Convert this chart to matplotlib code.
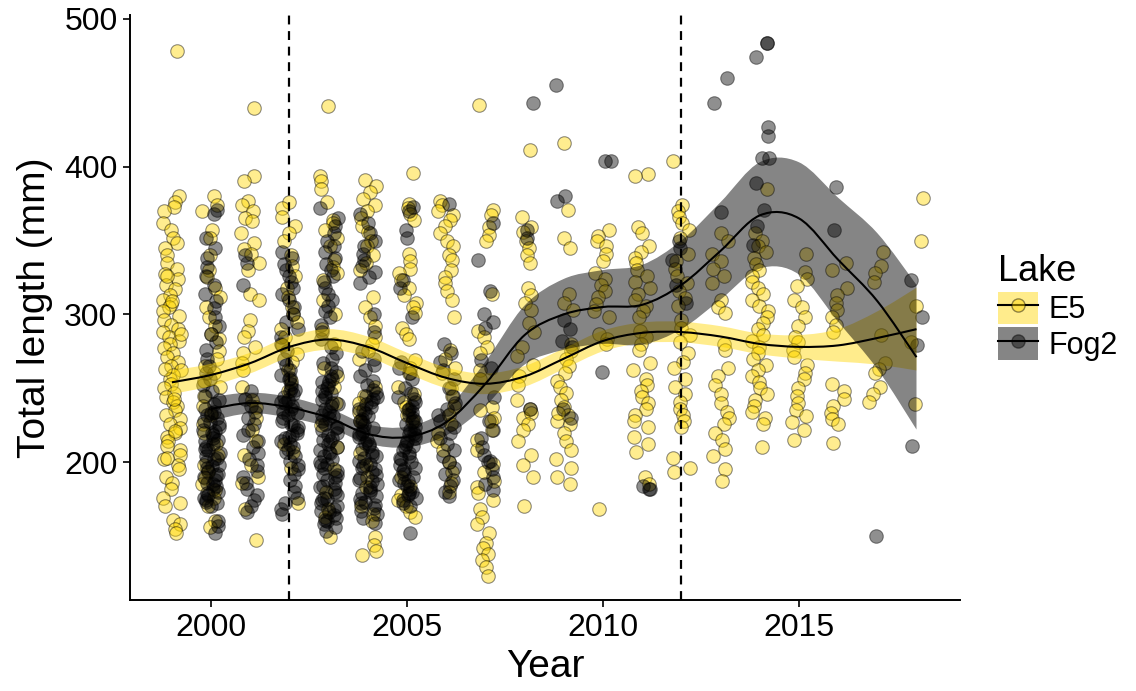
import numpy as np
import matplotlib
matplotlib.use("Agg")
import matplotlib.pyplot as plt
from matplotlib.path import Path
from matplotlib.patches import PathPatch, Patch
from matplotlib.lines import Line2D
from matplotlib.legend_handler import HandlerTuple

plt.rcParams['font.family'] = ['Liberation Sans', 'DejaVu Sans']

# ---------------- data: E5 (total length, mm) per year ----------------
e5_1999 = [478, 380, 376, 373, 370, 362, 357, 352, 348, 345, 340, 335, 331, 327, 324, 320, 317, 313, 310, 307,
           305, 302, 299, 296, 293, 290, 288, 285, 282, 280, 277, 274, 271, 268, 265, 262, 259, 256, 253, 250,
           247, 244, 241, 238, 235, 232, 229, 226, 223, 220, 217, 214, 211, 208, 205, 202, 198, 195, 190, 186,
           182, 176, 172, 170, 161, 158, 155, 152, 263, 287, 309, 326, 243, 221, 203]
e5_2000 = [380, 374, 370, 357, 352, 340, 330, 325, 318, 312, 305, 298, 292, 287, 283, 275, 270, 265, 260, 255,
           251, 245, 238, 232, 226, 220, 212, 205, 198, 193, 189, 185, 181, 176, 170, 160, 156]
e5_2001 = [440, 394, 390, 377, 374, 370, 365, 363, 355, 348, 344, 341, 335, 330, 314, 310, 296, 289, 285, 278,
           274, 267, 262, 251, 242, 237, 230, 222, 214, 205, 198, 190, 186, 168, 147]
e5_2002 = [376, 372, 366, 360, 355, 350, 340, 333, 326, 318, 312, 305, 300, 295, 290, 285, 279, 273, 268, 262,
           255, 248, 212, 207, 196, 172]
e5_2003 = [441, 394, 390, 385, 376, 364, 362, 357, 352, 346, 337, 332, 328, 323, 310, 300, 290, 280, 264, 258,
           251, 240, 225, 210, 195, 180, 168, 163, 149]
e5_2004 = [391, 387, 383, 378, 374, 370, 365, 360, 356, 350, 346, 340, 335, 330, 312, 305, 298, 292, 285, 280,
           275, 270, 251, 245, 240, 234, 228, 206, 198, 190, 183, 170, 165, 160, 149, 144, 140, 137]
e5_2005 = [396, 375, 372, 368, 364, 341, 336, 331, 328, 323, 318, 313, 308, 305, 301, 291, 287, 283, 269, 264,
           260, 251, 246, 241, 237, 232, 228, 190, 184, 178, 174, 170, 166, 163]
e5_2006 = [377, 374, 370, 367, 364, 360, 355, 350, 346, 340, 337, 330, 325, 321, 316, 310, 298, 276, 270, 264,
           260, 250, 245, 238, 232, 226, 220, 214, 208, 200, 193, 186, 180]
e5_2007 = [442, 371, 367, 359, 354, 350, 314, 289, 285, 278, 274, 262, 256, 237, 230, 235, 228, 222, 215, 208,
           199, 193, 187, 183, 179, 174, 168, 163, 158, 152, 145, 142, 138, 134, 129, 123]
e5_2008 = [411, 366, 359, 356, 350, 345, 340, 335, 318, 313, 308, 303, 294, 288, 278, 272, 266, 258, 252, 242,
           236, 230, 233, 226, 222, 214, 205, 198, 190, 170]
e5_2009 = [416, 371, 352, 345, 314, 308, 303, 280, 275, 270, 265, 260, 255, 251, 247, 242, 237, 232, 228, 233,
           226, 220, 214, 208, 202, 196, 190, 185]
e5_2010 = [357, 353, 350, 346, 341, 336, 328, 324, 320, 316, 312, 307, 302, 298, 287, 283, 280, 168]
e5_2011 = [395, 394, 359, 355, 346, 342, 338, 335, 330, 326, 322, 318, 314, 310, 306, 302, 298, 289, 285, 280,
           276, 267, 262, 256, 252, 248, 244, 240, 236, 232, 228, 224, 217, 212, 207, 190, 185]
e5_2012 = [404, 374, 370, 366, 362, 357, 352, 341, 336, 331, 326, 321, 316, 311, 306, 296, 291, 286, 281, 274,
           268, 264, 256, 251, 246, 241, 236, 232, 228, 224, 203, 196, 193]
e5_2013 = [355, 350, 341, 336, 331, 326, 321, 310, 305, 301, 280, 276, 264, 258, 252, 246, 240, 234, 230, 226,
           220, 215, 209, 204, 195, 187]
e5_2014 = [385, 355, 350, 346, 342, 338, 334, 330, 326, 322, 318, 314, 310, 306, 302, 298, 294, 290, 286, 282,
           278, 274, 270, 266, 262, 258, 254, 250, 246, 242, 238, 234, 230, 226, 210]
e5_2015 = [341, 329, 324, 319, 310, 305, 298, 292, 285, 281, 276, 271, 266, 260, 256, 250, 245, 240, 235, 231,
           227, 222, 215]
e5_2016 = [335, 330, 318, 313, 308, 303, 298, 293, 288, 253, 248, 243, 238, 233, 229, 226, 213]
e5_2017 = [342, 333, 328, 322, 286, 267, 263, 260, 251, 246, 241]
e5_2018 = [379, 350, 306, 281, 239]

# ---------------- data: Fog2 (total length, mm) per year ----------------
fog_2000 = [371, 368, 352, 345, 338, 332, 326, 320, 314, 309, 304, 298, 292, 287, 281, 276, 270, 265, 260, 256,
            252, 248, 245, 242, 239, 236, 234, 232, 230, 228, 226, 224, 222, 220, 218, 216, 214, 212, 210, 208,
            206, 204, 202, 200, 198, 196, 194, 192, 190, 188, 186, 184, 182, 180, 178, 176, 174, 172, 170, 160,
            157, 152, 233, 227, 221, 215, 209, 203, 197, 191, 185, 179, 173]
fog_2001 = [340, 335, 320, 248, 243, 238, 234, 230, 226, 222, 218, 214, 210, 206, 202, 198, 194, 190, 186, 182,
            178, 174, 170, 166]
fog_2002 = [342, 338, 334, 330, 326, 322, 318, 314, 310, 305, 300, 295, 290, 285, 280, 275, 270, 266, 262, 259,
            256, 253, 250, 248, 246, 244, 242, 240, 238, 236, 234, 232, 230, 228, 226, 224, 222, 220, 218, 216,
            214, 212, 210, 207, 204, 201, 198, 195, 192, 188, 184, 180, 176, 172, 168, 165, 257, 249, 241, 233,
            225, 217, 209]
fog_2003 = [372, 365, 360, 355, 350, 346, 342, 338, 334, 330, 326, 322, 318, 314, 310, 306, 302, 298, 293, 288,
            283, 278, 274, 270, 267, 264, 261, 258, 256, 254, 252, 250, 248, 246, 244, 242, 240, 238, 236, 234,
            232, 230, 228, 226, 224, 222, 220, 218, 216, 214, 212, 210, 208, 206, 204, 202, 200, 198, 196, 194,
            192, 190, 188, 186, 184, 182, 180, 178, 176, 174, 172, 170, 168, 166, 164, 162, 160, 158, 156, 153,
            255, 247, 239, 231, 223, 215, 207, 199, 191, 183, 175, 167, 161]
fog_2004 = [368, 362, 355, 350, 346, 341, 337, 333, 329, 325, 321, 300, 288, 275, 270, 266, 262, 258, 255, 252,
            249, 247, 245, 243, 241, 239, 237, 235, 233, 231, 229, 227, 225, 223, 221, 219, 217, 215, 213, 211,
            209, 207, 205, 203, 201, 199, 197, 195, 193, 191, 189, 187, 185, 183, 181, 179, 177, 175, 173, 171,
            169, 167, 165, 162, 159, 244, 236, 228, 220, 212, 204, 196, 188, 180, 172]
fog_2005 = [373, 370, 357, 352, 323, 318, 298, 268, 264, 260, 256, 250, 247, 244, 241, 238, 236, 234, 232, 230,
            228, 226, 224, 222, 220, 218, 216, 214, 212, 210, 208, 206, 204, 202, 200, 198, 196, 194, 192, 190,
            188, 186, 184, 182, 180, 178, 176, 174, 172, 170, 152, 243, 235, 227, 219, 211, 203, 195, 187, 179]
fog_2006 = [375, 280, 274, 268, 262, 256, 250, 245, 240, 236, 232, 228, 224, 220, 216, 212, 208, 204, 200, 196,
            192, 188, 184, 180, 177]
fog_2007 = [362, 337, 316, 300, 295, 291, 269, 264, 244, 228, 222, 216, 210, 205, 200, 195, 190, 185, 181, 201]
fog_2008 = [443, 357, 352, 236]
fog_2009 = [455, 380, 377, 296, 290, 282, 278, 236, 230]
fog_2010 = [404, 404, 261]
fog_2011 = [182, 182, 184]
fog_2012 = [350, 345, 337, 320, 308]
fog_2013 = [460, 443, 369]
fog_2014 = [484, 484, 474, 427, 421, 406, 406, 389, 371, 360, 347]
fog_2016 = [386, 357]
fog_2017 = [150]
fog_2018 = [323, 298, 279, 211]

e5_years = list(range(1999, 2019))
e5_lists = [e5_1999, e5_2000, e5_2001, e5_2002, e5_2003, e5_2004, e5_2005, e5_2006, e5_2007, e5_2008,
            e5_2009, e5_2010, e5_2011, e5_2012, e5_2013, e5_2014, e5_2015, e5_2016, e5_2017, e5_2018]
fog_years = [2000, 2001, 2002, 2003, 2004, 2005, 2006, 2007, 2008, 2009, 2010, 2011, 2012, 2013, 2014,
             2016, 2017, 2018]
fog_lists = [fog_2000, fog_2001, fog_2002, fog_2003, fog_2004, fog_2005, fog_2006, fog_2007, fog_2008,
             fog_2009, fog_2010, fog_2011, fog_2012, fog_2013, fog_2014, fog_2016, fog_2017, fog_2018]

# ---------------- smoother fits ----------------
e5_fit_years = list(range(1999, 2019))
e5_fit = [254, 259, 267, 278, 283, 278, 267, 257, 253, 258, 270, 282, 287.5, 288, 285, 280, 278, 279, 284, 290]
e5_se = [8, 7.5, 7, 7, 7, 7, 7, 7, 7, 7, 7, 7, 7, 7, 7, 7, 8, 11, 18, 28]
fog_fit_years = list(range(2000, 2019))
fog_fit = [236, 240, 237, 230, 219, 217, 227, 253, 286, 300, 305, 306.5, 320, 343, 367, 365, 337, 309, 271]
fog_se = [8, 7, 7, 6.5, 6.5, 7, 9, 15, 20, 24, 25, 27, 30, 33, 36, 38, 42, 46, 49]

breaks = [2002, 2012]

# ---------------- styling ----------------
GOLD = '#FFD700'
JIT = 0.23
PT_S = 95
PT_A = 0.44


def jitter(n, offset):
    # deterministic horizontal scatter of points within a year column (position only)
    i = np.arange(n) + 1.0
    u = np.modf(np.abs(np.sin(i * 12.9898 + offset * 78.233)) * 43758.5453)[0]
    return (u - 0.5) * 2 * JIT


def smooth_verts(x, y):
    x = list(x); y = list(y); n = len(x)
    verts = [(x[0], y[0])]
    codes = [Path.MOVETO]
    for i in range(n - 1):
        p0 = i - 1 if i > 0 else i
        p3 = i + 2 if i + 2 < n else i + 1
        c1 = (x[i] + (x[i + 1] - x[p0]) / 6.0, y[i] + (y[i + 1] - y[p0]) / 6.0)
        c2 = (x[i + 1] - (x[p3] - x[i]) / 6.0, y[i + 1] - (y[p3] - y[i]) / 6.0)
        verts += [c1, c2, (x[i + 1], y[i + 1])]
        codes += [Path.CURVE4] * 3
    return verts, codes


def draw_fit(ax, xs, fit, se, color, alpha):
    xs = np.array(xs, float); fit = np.array(fit, float); se = np.array(se, float)
    up_v, up_c = smooth_verts(xs, fit + se)
    lo_v, lo_c = smooth_verts(xs[::-1], (fit - se)[::-1])
    lo_c[0] = Path.LINETO
    verts = up_v + lo_v + [up_v[0]]
    codes = up_c + lo_c + [Path.CLOSEPOLY]
    ax.add_patch(PathPatch(Path(verts, codes), facecolor=color, alpha=alpha, edgecolor='none', zorder=3))
    lv, lc = smooth_verts(xs, fit)
    ax.add_patch(PathPatch(Path(lv, lc), fill=False, edgecolor='black', lw=1.5, zorder=4))


fig = plt.figure(figsize=(11.36, 6.91), dpi=100)
ax = fig.add_axes([130 / 1136, 1 - 600 / 691, 830 / 1136, 585 / 691])

for yr, vals in zip(e5_years, e5_lists):
    xs = yr + jitter(len(vals), (yr - 1990) * 0.37)
    ax.scatter(xs, vals, s=PT_S, facecolor=GOLD, edgecolor='black', linewidths=0.8, alpha=PT_A, zorder=2)
for yr, vals in zip(fog_years, fog_lists):
    xs = yr + jitter(len(vals), (yr - 1990) * 0.53 + 0.2)
    ax.scatter(xs, vals, s=PT_S, facecolor='black', edgecolor='black', linewidths=0.8, alpha=PT_A, zorder=2)

draw_fit(ax, e5_fit_years, e5_fit, e5_se, GOLD, 0.45)
draw_fit(ax, fog_fit_years, fog_fit, fog_se, 'black', 0.48)

for b in breaks:
    ax.axvline(b, color='black', lw=1.6, ls=(0, (4, 3)), zorder=5)

ax.set_xlim(1997.93, 2019.11)
ax.set_ylim(106.6, 502.7)
ax.set_xticks([2000, 2005, 2010, 2015])
ax.set_yticks([200, 300, 400, 500])
ax.tick_params(labelsize=23, length=5, width=1.2, color='black', labelcolor='black', pad=4)
for s in ['top', 'right']:
    ax.spines[s].set_visible(False)
for s in ['left', 'bottom']:
    ax.spines[s].set_linewidth(1.4)
ax.set_xlabel('Year', fontsize=28, labelpad=5)
ax.set_ylabel('Total length (mm)', fontsize=28, labelpad=8)

h_e5 = (Patch(facecolor=GOLD, alpha=0.45, edgecolor='none'),
        Line2D([], [], color='black', lw=1.5),
        Line2D([], [], ls='none', marker='o', markersize=9.5, markerfacecolor=(1, 0.84, 0, PT_A),
               markeredgecolor=(0, 0, 0, PT_A)))
h_fog = (Patch(facecolor='black', alpha=0.48, edgecolor='none'),
         Line2D([], [], color='black', lw=1.5),
         Line2D([], [], ls='none', marker='o', markersize=9.5, markerfacecolor=(0, 0, 0, PT_A),
                markeredgecolor=(0, 0, 0, PT_A)))
leg = fig.legend([h_e5, h_fog], ['E5', 'Fog2'], title='Lake', loc='center left',
                 bbox_to_anchor=(0.865, 0.555), frameon=False, fontsize=22, title_fontsize=26,
                 handler_map={tuple: HandlerTuple(ndivide=1)}, handlelength=1.3, handleheight=1.25,
                 handletextpad=0.35, labelspacing=0.08, alignment='left', borderpad=0)

fig.savefig('out.png', dpi=100)
